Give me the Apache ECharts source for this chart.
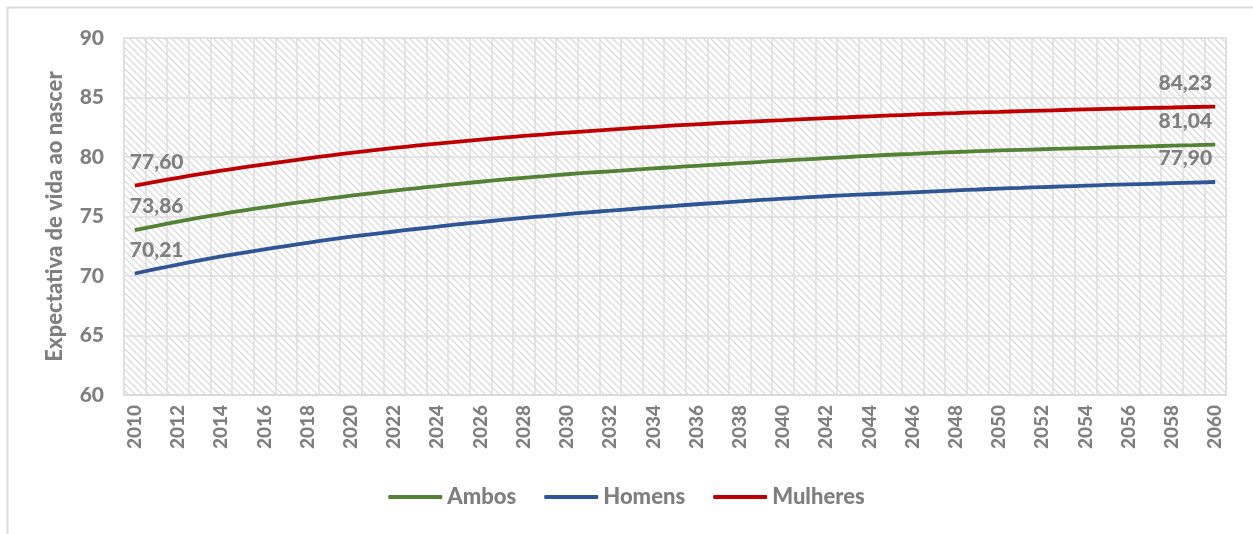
<!DOCTYPE html>
<html>
<head>
<meta charset="utf-8">
<script src="https://cdn.jsdelivr.net/npm/echarts@6/dist/echarts.min.js"></script>
<style>
  html, body { margin: 0; padding: 0; background: #fff; }
  #chart { width: 1253px; height: 534px; }
</style>
</head>
<body>
<div id="chart"></div>
<script>
const years = []
for (let y = 2010; y <= 2060; y++) years.push(String(y))

const ambos = [
  73.86, 74.22, 74.57, 74.90, 75.21, 75.50, 75.77, 76.03, 76.28, 76.52,
  76.75, 76.96, 77.17, 77.37, 77.56, 77.75, 77.92, 78.09, 78.25, 78.40,
  78.55, 78.68, 78.80, 78.92, 79.04, 79.15, 79.26, 79.37, 79.48, 79.59,
  79.70, 79.80, 79.90, 80.00, 80.10, 80.19, 80.27, 80.35, 80.42, 80.49,
  80.55, 80.60, 80.65, 80.70, 80.75, 80.80, 80.85, 80.90, 80.95, 81.00,
  81.04
]
const homens = [
  70.21, 70.59, 70.96, 71.31, 71.64, 71.95, 72.24, 72.52, 72.79, 73.05,
  73.30, 73.52, 73.74, 73.95, 74.15, 74.35, 74.53, 74.71, 74.88, 75.04,
  75.20, 75.35, 75.49, 75.63, 75.77, 75.90, 76.03, 76.15, 76.27, 76.39,
  76.50, 76.60, 76.70, 76.79, 76.87, 76.95, 77.03, 77.11, 77.19, 77.27,
  77.35, 77.41, 77.47, 77.53, 77.59, 77.65, 77.70, 77.75, 77.80, 77.85,
  77.90
]
const mulheres = [
  77.60, 77.93, 78.25, 78.56, 78.85, 79.12, 79.38, 79.63, 79.88, 80.12,
  80.35, 80.56, 80.76, 80.95, 81.13, 81.30, 81.46, 81.62, 81.77, 81.91,
  82.05, 82.18, 82.30, 82.42, 82.54, 82.65, 82.75, 82.84, 82.93, 83.02,
  83.10, 83.18, 83.26, 83.34, 83.42, 83.49, 83.56, 83.63, 83.69, 83.75,
  83.80, 83.85, 83.90, 83.95, 84.00, 84.04, 84.08, 84.12, 84.16, 84.20,
  84.23
]

const FONT = 'Lato'
const WEIGHT = 900
const GREY = '#7f7f7f'

// diagonal hatch used as plot background
function hatch() {
  const s = 7
  const c = document.createElement('canvas')
  c.width = s
  c.height = s
  const ctx = c.getContext('2d')
  ctx.fillStyle = '#ffffff'
  ctx.fillRect(0, 0, s, s)
  ctx.strokeStyle = '#d6d6d6'
  ctx.lineWidth = 1.2
  ctx.beginPath()
  ctx.moveTo(-1, -1); ctx.lineTo(s + 1, s + 1)
  ctx.moveTo(-1, s - 1); ctx.lineTo(1, s + 1)
  ctx.moveTo(s - 1, -1); ctx.lineTo(s + 1, 1)
  ctx.stroke()
  return c
}

const fmt = v => v.toFixed(2).replace('.', ',')

// only first and last points get a value label
function withEndLabels(values) {
  return values.map((v, i) => {
    if (i === 0) {
      return { value: v, label: { show: true, position: 'top', align: 'left', offset: [-5, -8] } }
    }
    if (i === values.length - 1) {
      return { value: v, label: { show: true, position: 'top', align: 'right', offset: [-3, -8] } }
    }
    return v
  })
}

function lineSeries(name, values, color) {
  return {
    name: name,
    type: 'line',
    data: withEndLabels(values),
    smooth: true,
    showSymbol: true,
    symbol: 'circle',
    symbolSize: 0,
    lineStyle: { color: color, width: 3.8 },
    itemStyle: { color: color },
    label: {
      show: false,
      fontFamily: FONT,
      fontWeight: WEIGHT,
      fontSize: 21,
      color: GREY,
      formatter: p => fmt(p.value)
    },
    emphasis: { disabled: true }
  }
}

const chart = echarts.init(document.getElementById('chart'))
chart.setOption({
  animation: false,
  backgroundColor: '#fff',
  graphic: [{
    type: 'rect',
    shape: { x: 7.5, y: 7.5, width: 1260, height: 540 },
    style: { fill: 'none', stroke: '#d9d9d9', lineWidth: 2 },
    silent: true
  }],
  grid: {
    left: 124,
    right: 27,
    top: 38,
    bottom: 139,
    show: true,
    backgroundColor: { image: hatch(), repeat: 'repeat' },
    borderColor: '#d9d9d9',
    borderWidth: 1
  },
  legend: {
    bottom: 21,
    left: 'center',
    icon: 'roundRect',
    itemWidth: 54,
    itemHeight: 4,
    itemGap: 28,
    textStyle: { fontFamily: FONT, fontWeight: WEIGHT, fontSize: 22, color: GREY },
    data: ['Ambos', 'Homens', 'Mulheres']
  },
  xAxis: {
    type: 'category',
    data: years,
    boundaryGap: true,
    axisLine: { show: true, lineStyle: { color: '#d9d9d9', width: 2 } },
    axisTick: { show: false },
    axisLabel: {
      interval: 1,
      rotate: 90,
      margin: 10,
      fontFamily: FONT,
      fontWeight: WEIGHT,
      fontSize: 19,
      color: GREY
    },
    splitLine: { show: true, interval: 0, lineStyle: { color: '#dcdcdc', width: 1.5 } }
  },
  yAxis: {
    type: 'value',
    min: 60,
    max: 90,
    interval: 5,
    name: 'Expectativa de vida ao nascer',
    nameLocation: 'middle',
    nameGap: 58,
    nameTextStyle: { fontFamily: FONT, fontWeight: WEIGHT, fontSize: 22, color: GREY },
    axisLine: { show: false },
    axisTick: { show: false },
    axisLabel: { margin: 20, fontFamily: FONT, fontWeight: WEIGHT, fontSize: 21, color: GREY },
    splitLine: { show: true, lineStyle: { color: '#dcdcdc', width: 1.5 } }
  },
  series: [
    lineSeries('Ambos', ambos, '#548235'),
    lineSeries('Homens', homens, '#2f5597'),
    lineSeries('Mulheres', mulheres, '#c00000')
  ]
})
</script>
</body>
</html>
